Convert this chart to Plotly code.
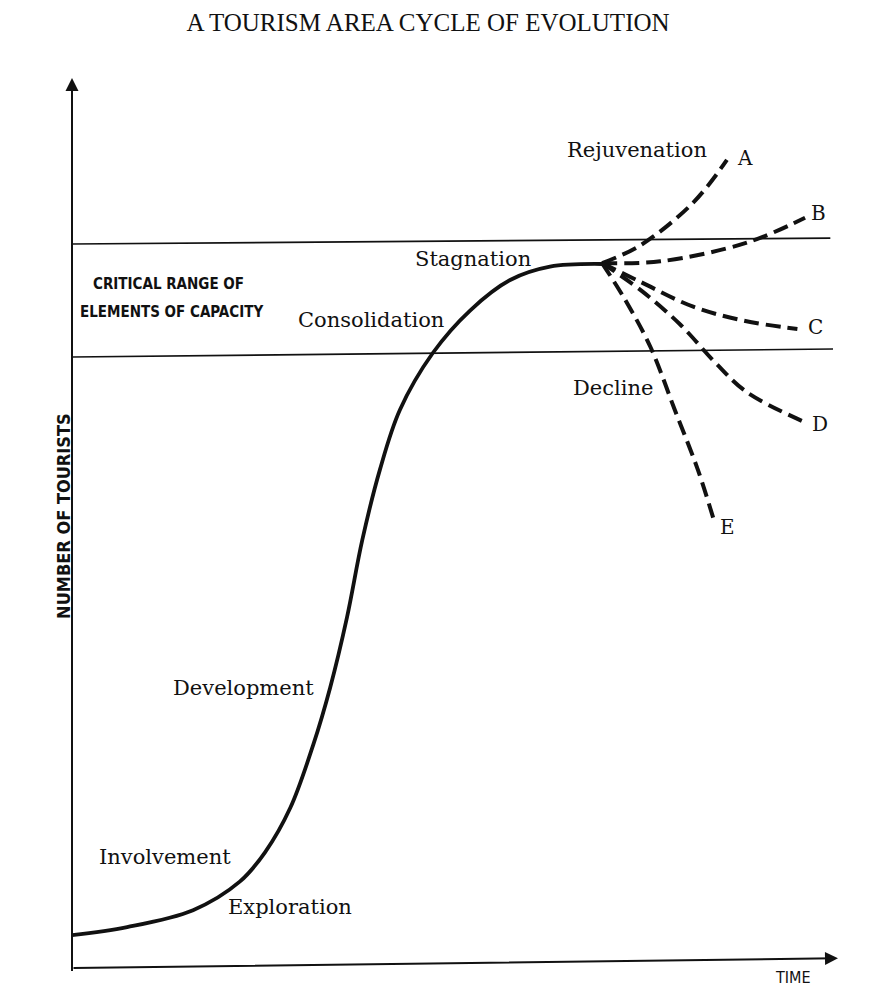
import plotly.graph_objects as go

# ---- Data (time and number of tourists, arbitrary units 0-100) ----
cycle_time = [0.0, 7.2, 15.8, 21.9, 25.2, 28.5, 31.5, 33.7, 35.9, 37.9, 40.2,
              42.8, 47.1, 52.0, 57.2, 62.4, 69.2]
cycle_tourists = [3.7, 4.6, 6.5, 9.7, 13.0, 18.0, 25.1, 31.5, 39.4, 48.1, 56.0,
                  62.7, 69.1, 73.9, 77.3, 78.8, 79.1]

branch_A_time = [69.2, 74.2, 81.1, 85.5]
branch_A_tourists = [79.2, 81.2, 86.0, 90.8]

branch_B_time = [69.2, 76.8, 88.1, 95.7]
branch_B_tourists = [79.2, 79.4, 81.5, 84.3]

branch_C_time = [69.2, 74.2, 81.1, 87.9, 94.7]
branch_C_tourists = [79.2, 77.1, 74.3, 72.7, 71.8]

branch_D_time = [69.2, 74.2, 79.4, 83.9, 88.1, 96.0]
branch_D_tourists = [79.2, 76.2, 72.3, 68.1, 64.7, 61.2]

branch_E_time = [69.2, 72.2, 75.5, 78.7, 81.7, 83.7]
branch_E_tourists = [79.2, 75.1, 69.8, 62.7, 56.0, 50.6]

capacity_upper_time = [0.0, 99.0]
capacity_upper_tourists = [81.35, 82.0]
capacity_lower_time = [0.0, 99.35]
capacity_lower_tourists = [68.65, 69.55]

branch_labels = ["A", "B", "C", "D", "E"]
stage_labels = ["Rejuvenation", "Stagnation", "Consolidation", "Decline",
                "Development", "Involvement", "Exploration"]

title_text = "A TOURISM AREA CYCLE OF EVOLUTION"
y_title = "NUMBER OF TOURISTS"
x_title = "TIME"
capacity_text = ["CRITICAL RANGE OF", "ELEMENTS OF CAPACITY"]

# ---- Label placement ----
branch_label_pos = [(87.9, 91.0), (97.4, 84.8), (97.0, 72.0), (97.65, 61.1), (85.6, 49.55)]
stage_label_pos = [(73.8, 91.9), (52.35, 79.7), (39.0, 72.8), (70.6, 65.2),
                   (22.45, 31.5), (12.1, 12.5), (28.5, 6.85)]
capacity_text_pos = [(12.66, 76.85), (13.05, 73.7)]

SERIF = "DejaVu Serif, Liberation Serif, serif"
NARROW = "Liberation Sans Narrow, DejaVu Sans Condensed, Arial Narrow, Liberation Sans, sans-serif"

fig = go.Figure()

for xs, ys in [(capacity_upper_time, capacity_upper_tourists),
               (capacity_lower_time, capacity_lower_tourists)]:
    fig.add_trace(go.Scatter(x=xs, y=ys, mode="lines",
                             line=dict(color="#111", width=1.7),
                             hoverinfo="skip", showlegend=False))

fig.add_trace(go.Scatter(x=cycle_time, y=cycle_tourists, mode="lines",
                         line=dict(color="#111", width=3.8, shape="spline", smoothing=1.0),
                         hoverinfo="skip", showlegend=False))

branches = [(branch_A_time, branch_A_tourists), (branch_B_time, branch_B_tourists),
            (branch_C_time, branch_C_tourists), (branch_D_time, branch_D_tourists),
            (branch_E_time, branch_E_tourists)]
for xs, ys in branches:
    fig.add_trace(go.Scatter(x=xs, y=ys, mode="lines",
                             line=dict(color="#111", width=4, dash="15px,7px",
                                       shape="spline", smoothing=1.0),
                             hoverinfo="skip", showlegend=False))

# Axes drawn as arrows
fig.add_annotation(x=100, y=1.1, ax=0, ay=0, xref="x", yref="y", axref="x", ayref="y",
                   text="", showarrow=True, arrowhead=2, arrowsize=1.3, arrowwidth=2,
                   arrowcolor="#111", standoff=0, startstandoff=0)
fig.add_annotation(x=0, y=100, ax=0, ay=-0.5, xref="x", yref="y", axref="x", ayref="y",
                   text="", showarrow=True, arrowhead=2, arrowsize=1.3, arrowwidth=2,
                   arrowcolor="#111", standoff=0, startstandoff=0)

for txt, (x, y) in zip(stage_labels, stage_label_pos):
    fig.add_annotation(x=x, y=y, text=txt, showarrow=False, xanchor="center", yanchor="middle",
                       font=dict(family=SERIF, size=21, color="#111"))
for txt, (x, y) in zip(branch_labels, branch_label_pos):
    fig.add_annotation(x=x, y=y, text=txt, showarrow=False, xanchor="center", yanchor="middle",
                       font=dict(family=SERIF, size=20, color="#111"))
for txt, (x, y) in zip(capacity_text, capacity_text_pos):
    fig.add_annotation(x=x, y=y, text=txt, showarrow=False, xanchor="center", yanchor="middle",
                       font=dict(family=NARROW, size=15, color="#111", weight="bold"))

# Axis titles (paper coordinates, outside the plotting range)
fig.add_annotation(x=-0.0104, y=0.508, xref="paper", yref="paper", text=y_title,
                   textangle=-90, showarrow=False, xanchor="center", yanchor="middle",
                   font=dict(family=NARROW, size=18, color="#111", weight="bold"))
fig.add_annotation(x=0.941, y=-0.011, xref="paper", yref="paper", text=x_title,
                   showarrow=False, xanchor="center", yanchor="middle",
                   font=dict(family=NARROW, size=16, color="#111"))

fig.update_layout(
    width=894, height=1004,
    margin=dict(l=72, r=56, t=78, b=36, pad=0),
    paper_bgcolor="white", plot_bgcolor="white",
    title=dict(text=title_text, x=428 / 894, y=1 - 22 / 1004, xanchor="center", yanchor="middle",
               font=dict(family="Liberation Serif, serif", size=25, color="#111")),
    xaxis=dict(range=[0, 100], visible=False, fixedrange=True),
    yaxis=dict(range=[0, 100], visible=False, fixedrange=True),
    showlegend=False,
)

fig.write_html("out.html", config={"displayModeBar": False, "responsive": False})
